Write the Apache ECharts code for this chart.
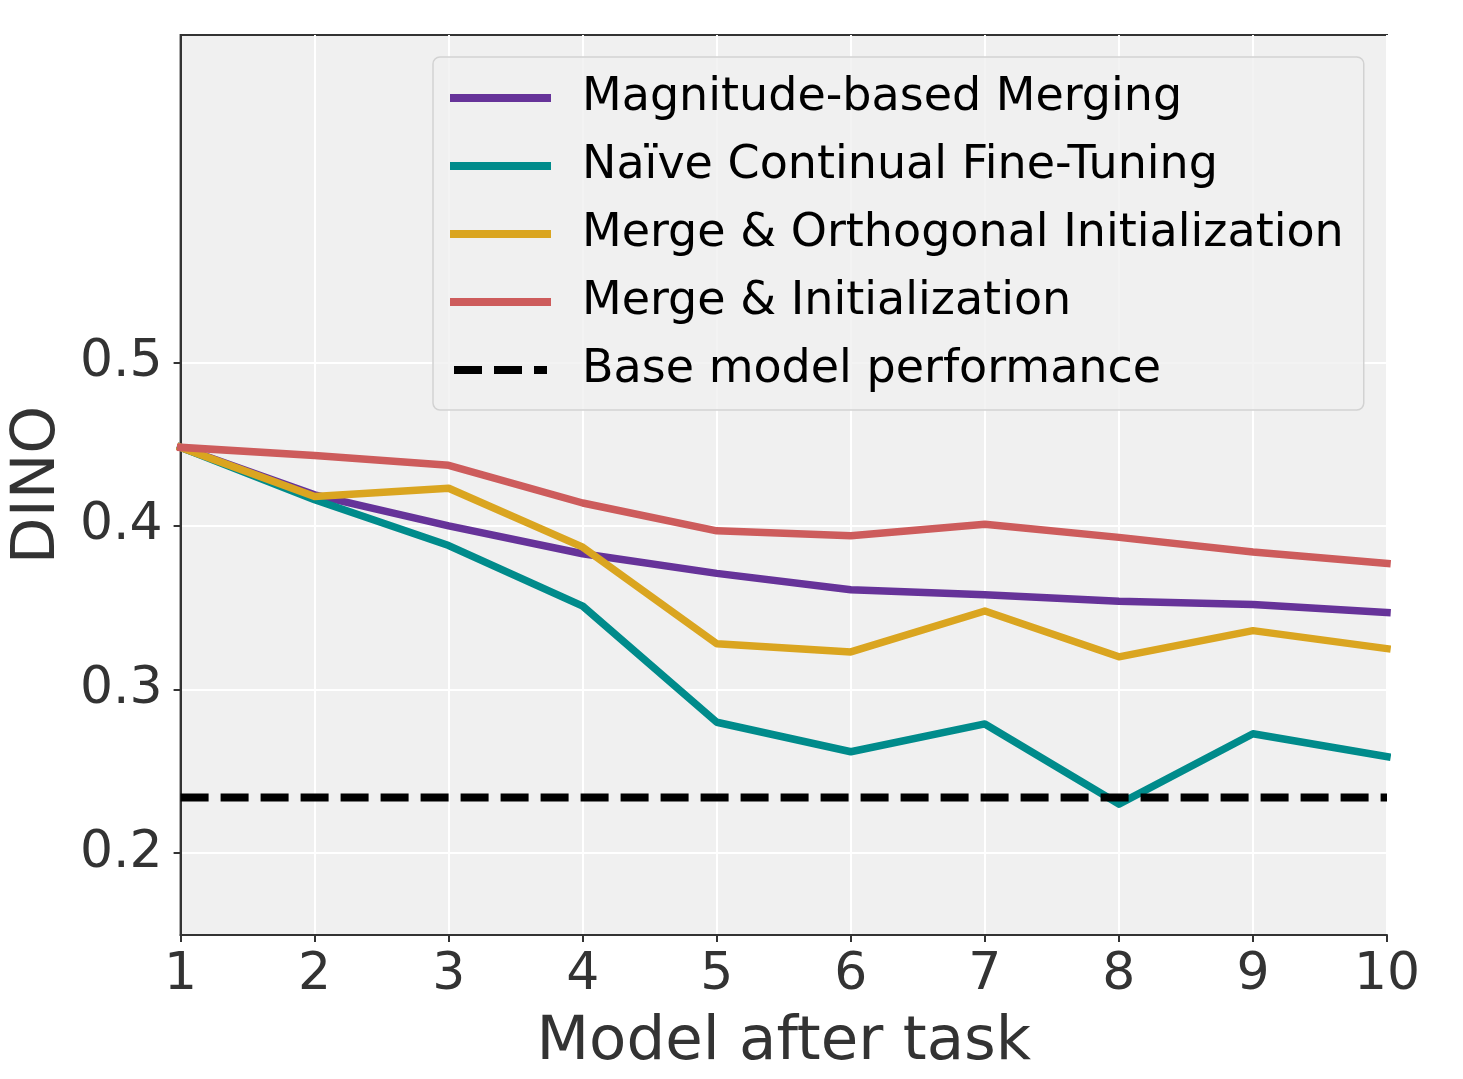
<!DOCTYPE html>
<html>
<head>
<meta charset="utf-8">
<script src="https://cdn.jsdelivr.net/npm/echarts@6/dist/echarts.min.js"></script>
<style>
  html, body { margin: 0; padding: 0; background: #fff; }
  #chart { width: 1463px; height: 1079px; }
</style>
</head>
<body>
<div id="chart"></div>
<script>
// x positions: model after task n
const tasks = [1, 2, 3, 4, 5, 6, 7, 8, 9, 10];
const yTicks = [0.2, 0.3, 0.4, 0.5];

const magnitudeMerging = [0.448, 0.419, 0.400, 0.383, 0.371, 0.361, 0.358, 0.354, 0.352, 0.347];
const naiveFineTuning = [0.448, 0.416, 0.388, 0.351, 0.280, 0.262, 0.279, 0.230, 0.273, 0.259];
const orthogonalInit = [0.448, 0.418, 0.423, 0.387, 0.328, 0.323, 0.348, 0.320, 0.336, 0.325];
const mergeInit = [0.448, 0.443, 0.437, 0.414, 0.397, 0.394, 0.401, 0.393, 0.384, 0.377];
const basePerformance = 0.234;

const seriesNames = [
    'Magnitude-based Merging',
    'Naïve Continual Fine-Tuning',
    'Merge & Orthogonal Initialization',
    'Merge & Initialization',
    'Base model performance'
];
const colors = ['#663399', '#008b8b', '#daa520', '#cd5c5c', '#000000'];

var chart = echarts.init(document.getElementById('chart'));
const font = 'DejaVu Sans';

function toPoints(values) {
    return tasks.map((t, i) => [t, values[i]]);
}

function lineSeries(name, values, color) {
    return {
        name: name,
        type: 'line',
        data: toPoints(values),
        symbol: 'none',
        color: color,
        lineStyle: {color: color, width: 7.5, cap: 'square', join: 'round'},
        emphasis: {disabled: true},
        animation: false
    };
}

var option = {
    animation: false,
    grid: {
        left: 180,
        right: 76,
        top: 35,
        bottom: 144,
        show: true,
        backgroundColor: '#f0f0f0',
        borderColor: '#333',
        borderWidth: 2
    },
    legend: {
        orient: 'vertical',
        left: 433,
        top: 57,
        padding: [13, 20, 12, 17],
        itemGap: 12,
        itemWidth: 93,
        itemHeight: 14,
        backgroundColor: 'rgba(240,240,240,0.8)',
        borderColor: '#d2d2d2',
        borderWidth: 1.5,
        borderRadius: 7,
        data: seriesNames,
        itemStyle: {opacity: 0},
        lineStyle: {width: 8},
        textStyle: {
            fontFamily: font,
            fontSize: 46,
            lineHeight: 56,
            color: '#000',
            padding: [0, 0, 0, 30]
        }
    },
    xAxis: {
        type: 'value',
        min: 1,
        max: 10,
        interval: 1,
        name: 'Model after task',
        nameLocation: 'middle',
        nameGap: 78,
        nameTextStyle: {fontFamily: font, fontSize: 61, color: '#333'},
        axisLine: {show: true, lineStyle: {color: '#333', width: 2}},
        axisTick: {show: true, length: 7, lineStyle: {color: '#333', width: 2}},
        axisLabel: {fontFamily: font, fontSize: 52, color: '#333', margin: 14},
        splitLine: {show: true, lineStyle: {color: '#fff', width: 2}}
    },
    yAxis: {
        type: 'value',
        min: 0.15,
        max: 0.70,
        name: 'DINO',
        nameLocation: 'middle',
        nameGap: 102,
        nameTextStyle: {fontFamily: font, fontSize: 61, color: '#333'},
        axisLine: {show: true, lineStyle: {color: '#333', width: 2}},
        axisTick: {show: true, length: 7, customValues: yTicks, lineStyle: {color: '#333', width: 2}},
        axisLabel: {
            fontFamily: font, fontSize: 52, color: '#333', margin: 18,
            customValues: yTicks,
            formatter: v => v.toFixed(1)
        },
        splitLine: {show: true, customValues: yTicks, lineStyle: {color: '#fff', width: 2}}
    },
    series: [
        lineSeries(seriesNames[0], magnitudeMerging, colors[0]),
        lineSeries(seriesNames[1], naiveFineTuning, colors[1]),
        lineSeries(seriesNames[2], orthogonalInit, colors[2]),
        lineSeries(seriesNames[3], mergeInit, colors[3]),
        {
            name: seriesNames[4],
            type: 'line',
            data: tasks.map(t => [t, basePerformance]),
            symbol: 'none',
            color: colors[4],
            lineStyle: {color: colors[4], width: 8, type: [28, 12], cap: 'butt'},
            emphasis: {disabled: true},
            animation: false
        }
    ]
};

chart.setOption(option);
</script>
</body>
</html>
